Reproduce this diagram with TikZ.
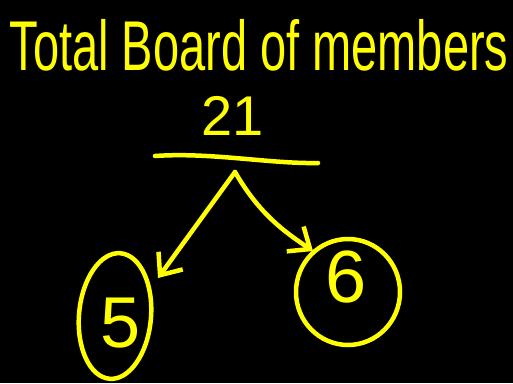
\documentclass[tikz,border=0pt]{standalone}
\usepackage{fontspec}
\setmainfont{Liberation Sans}
\usetikzlibrary{shapes.geometric,arrows.meta}
\definecolor{ink}{HTML}{FFFF00}
\tikzset{
  pen/.style={draw=ink, line width=4.5pt, line cap=round, line join=round},
  txt/.style={text=ink, inner sep=0pt},
  ring/.style={pen, ellipse, inner sep=0pt, text=ink},
  arr/.style={pen, -{Straight Barb[length=18pt,width=30pt,line width=4.5pt]}}
}
\begin{document}
\begin{tikzpicture}[x=1pt,y=-1pt]
\fill[black] (0,0) rectangle (513,383);
\useasboundingbox (0,0) rectangle (513,383);
\node[txt, anchor=base, font=\fontsize{47}{50}\selectfont, yscale=1.5, transform shape] (title) at (259,70) {Total Board of members};
\node[txt, anchor=base, font=\fontsize{56}{60}\selectfont] (n21) at (233,135) {21};
\coordinate (lineL) at (155,156);
\coordinate (lineR) at (318,163);
\draw[pen] (lineL) .. controls (210,152) and (270,164) .. (lineR);
\coordinate (top) at (235,172);
\node[ring, minimum width=72pt, minimum height=126pt, rotate=-5] (five) at (115,316) {};
\node[txt, anchor=base, font=\fontsize{72}{76}\selectfont] (fivet) at (121,347) {5};
\node[ring, minimum width=104pt, minimum height=106pt] (six) at (348,292) {};
\node[txt, anchor=base, font=\fontsize{74}{78}\selectfont] (sixt) at (346,302) {6};
\coordinate (tipL) at (158,278);
\coordinate (tipR) at (313,251);
\draw[arr] (top) -- (tipL);
\draw[arr] (top) .. controls (260,215) and (285,232) .. (tipR);
\end{tikzpicture}
\end{document}
